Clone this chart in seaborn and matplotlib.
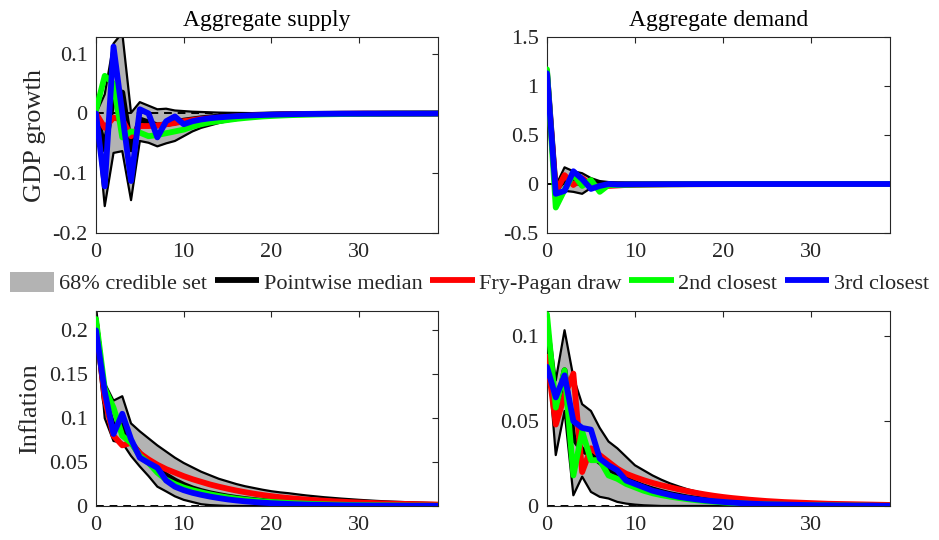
import numpy as np
import pandas as pd
import matplotlib
matplotlib.use("Agg")
import matplotlib.pyplot as plt
from matplotlib.lines import Line2D
from matplotlib.patches import Patch
import seaborn as sns

horizons = list(range(40))

# ---------------- GDP growth, aggregate supply ----------------
gs_upper = [0, 0.032, 0.117, 0.135, 0.001, 0.019, 0.013, 0.007, 0.008, 0.005,
            0.004, 0.003, 0.0025, 0.002, 0.0015, 0.0012, 0.001, 0.0008, 0.0006, 0.0005,
            0.0004, 0.0003, 0.0003, 0.0002, 0.0002, 0.0002, 0.0001, 0.0001, 0.0001, 0.0001,
            0.0001, 0.0001, 0, 0, 0, 0, 0, 0, 0, 0]
gs_lower = [0, -0.155, -0.066, -0.063, -0.145, -0.046, -0.049, -0.055, -0.05, -0.046,
            -0.038, -0.03, -0.024, -0.02, -0.016, -0.013, -0.011, -0.009, -0.0075, -0.0063,
            -0.0053, -0.0045, -0.0038, -0.0032, -0.0027, -0.0023, -0.0019, -0.0016, -0.0014, -0.0012,
            -0.001, -0.0008, -0.0007, -0.0006, -0.0005, -0.0004, -0.0003, -0.0003, -0.0002, -0.0002]
gs_median = [0, -0.06, 0.03, 0.035, -0.06, -0.01, -0.015, -0.02, -0.018, -0.015,
             -0.012, -0.01, -0.008, -0.0065, -0.0053, -0.0043, -0.0035, -0.0028, -0.0023, -0.0019,
             -0.0015, -0.0012, -0.001, -0.0008, -0.0007, -0.0006, -0.0005, -0.0004, -0.0003, -0.0003,
             -0.0002, -0.0002, -0.0002, -0.0001, -0.0001, -0.0001, -0.0001, 0, 0, 0]
gs_fry = [0, -0.024, -0.007, -0.01, -0.038, -0.021, -0.021, -0.02, -0.018, -0.016,
          -0.013, -0.011, -0.009, -0.008, -0.007, -0.006, -0.005, -0.0042, -0.0035, -0.003,
          -0.0025, -0.002, -0.0017, -0.0014, -0.0012, -0.001, -0.0008, -0.0007, -0.0006, -0.0005,
          -0.0004, -0.0003, -0.0003, -0.0002, -0.0002, -0.0002, -0.0001, -0.0001, -0.0001, -0.0001]
gs_second = [0.005, 0.063, 0.05, -0.04, -0.03, -0.032, -0.038, -0.036, -0.033, -0.03,
             -0.027, -0.022, -0.018, -0.015, -0.013, -0.011, -0.009, -0.0075, -0.0062, -0.005,
             -0.0042, -0.0035, -0.0029, -0.0024, -0.002, -0.0017, -0.0014, -0.0012, -0.001, -0.0008,
             -0.0007, -0.0006, -0.0005, -0.0004, -0.0003, -0.0003, -0.0002, -0.0002, -0.0002, -0.0001]
gs_third = [0, -0.122, 0.112, 0.0, -0.113, 0.007, 0.0, -0.04, -0.013, -0.005,
            -0.018, -0.013, -0.01, -0.008, -0.0065, -0.0055, -0.0045, -0.0037, -0.003, -0.0025,
            -0.002, -0.0016, -0.0013, -0.001, -0.0008, -0.0007, -0.0006, -0.0005, -0.0004, -0.0003,
            -0.0003, -0.0002, -0.0002, -0.0002, -0.0001, -0.0001, -0.0001, -0.0001, -0.0001, 0]

# ---------------- GDP growth, aggregate demand ----------------
gd_upper = [1.17, -0.02, 0.17, 0.13, 0.11, 0.06, 0.03, 0.02, 0.015, 0.012,
            0.01, 0.008, 0.007, 0.006, 0.005, 0.004, 0.0035, 0.003, 0.0025, 0.002,
            0.002, 0.0018, 0.0016, 0.0014, 0.0012, 0.001, 0.001, 0.0009, 0.0008, 0.0007,
            0.0006, 0.0006, 0.0005, 0.0005, 0.0004, 0.0004, 0.0003, 0.0003, 0.0003, 0.0002]
gd_lower = [1.12, -0.12, -0.07, -0.08, -0.1, -0.04, -0.025, -0.02, -0.015, -0.012,
            -0.01, -0.008, -0.007, -0.006, -0.005, -0.004, -0.0035, -0.003, -0.0025, -0.002,
            -0.002, -0.0018, -0.0016, -0.0014, -0.0012, -0.001, -0.001, -0.0009, -0.0008, -0.0007,
            -0.0006, -0.0006, -0.0005, -0.0005, -0.0004, -0.0004, -0.0003, -0.0003, -0.0003, -0.0002]
gd_median = [1.15, -0.06, 0.05, 0.03, 0.0, 0.01, 0.0, -0.005, -0.004, -0.003,
             -0.002, -0.002, -0.0015, -0.0012, -0.001, -0.001, -0.0008, -0.0007, -0.0006, -0.0005,
             -0.0004, -0.0004, -0.0003, -0.0003, -0.0002, -0.0002, -0.0002, -0.0001, -0.0001, -0.0001,
             -0.0001, 0, 0, 0, 0, 0, 0, 0, 0, 0]
gd_fry = [1.1, -0.08, 0.09, -0.01, 0.06, -0.01, -0.03, -0.02, -0.015, -0.01,
          -0.008, -0.006, -0.005, -0.004, -0.003, -0.0025, -0.002, -0.0017, -0.0014, -0.0012,
          -0.001, -0.0008, -0.0007, -0.0006, -0.0005, -0.0004, -0.0003, -0.0003, -0.0002, -0.0002,
          -0.0002, -0.0001, -0.0001, -0.0001, -0.0001, 0, 0, 0, 0, 0]
gd_second = [1.17, -0.24, -0.06, 0.1, -0.02, 0.04, -0.08, -0.01, -0.01, -0.008,
             -0.006, -0.005, -0.004, -0.0035, -0.003, -0.0025, -0.002, -0.0017, -0.0014, -0.0012,
             -0.001, -0.0008, -0.0007, -0.0006, -0.0005, -0.0004, -0.0003, -0.0003, -0.0002, -0.0002,
             -0.0002, -0.0001, -0.0001, -0.0001, -0.0001, 0, 0, 0, 0, 0]
gd_third = [1.13, -0.1, -0.07, 0.13, 0.05, -0.05, -0.02, 0.0, -0.005, -0.004,
            -0.003, -0.0025, -0.002, -0.0017, -0.0014, -0.0012, -0.001, -0.0008, -0.0007, -0.0006,
            -0.0005, -0.0004, -0.0003, -0.0003, -0.0002, -0.0002, -0.0002, -0.0001, -0.0001, -0.0001,
            -0.0001, 0, 0, 0, 0, 0, 0, 0, 0, 0]

# ---------------- Inflation, aggregate supply ----------------
is_upper = [0.227, 0.14, 0.12, 0.125, 0.094, 0.085, 0.077, 0.069, 0.062, 0.055,
            0.049, 0.044, 0.039, 0.035, 0.031, 0.028, 0.025, 0.0225, 0.0205, 0.0185,
            0.0168, 0.0155, 0.0145, 0.0132, 0.012, 0.011, 0.01, 0.0092, 0.0084, 0.0077,
            0.007, 0.0064, 0.0058, 0.0053, 0.0049, 0.0045, 0.0041, 0.0038, 0.0035, 0.0032]
is_lower = [0.215, 0.10, 0.074, 0.072, 0.057, 0.045, 0.034, 0.022, 0.0166, 0.011,
            0.007, 0.0045, 0.002, 0.001, 0.0005, 0, 0, 0, 0, 0,
            0, 0, 0, 0, 0, 0, 0, 0, 0, 0,
            0, 0, 0, 0, 0, 0, 0, 0, 0, 0]
is_median = [0.21, 0.12, 0.09, 0.092, 0.072, 0.06, 0.05, 0.042, 0.035, 0.029,
             0.024, 0.02, 0.017, 0.0145, 0.0125, 0.0107, 0.0092, 0.0079, 0.0068, 0.0058,
             0.005, 0.0043, 0.0037, 0.0032, 0.0027, 0.0023, 0.002, 0.0017, 0.0015, 0.0013,
             0.0011, 0.001, 0.0008, 0.0007, 0.0006, 0.0005, 0.0004, 0.0004, 0.0003, 0.0003]
is_fry = [0.209, 0.122, 0.08, 0.069, 0.072, 0.06, 0.053, 0.047, 0.042, 0.038,
          0.034, 0.0305, 0.0275, 0.0245, 0.022, 0.0197, 0.0176, 0.0157, 0.014, 0.0125,
          0.0112, 0.01, 0.009, 0.0081, 0.0073, 0.0066, 0.006, 0.0054, 0.0049, 0.0044,
          0.004, 0.0036, 0.0032, 0.0029, 0.0026, 0.0024, 0.0022, 0.002, 0.0018, 0.0016]
is_second = [0.213, 0.134, 0.112, 0.08, 0.072, 0.057, 0.049, 0.038, 0.03, 0.025,
             0.021, 0.018, 0.0155, 0.0133, 0.0114, 0.0098, 0.0084, 0.0072, 0.0062, 0.0053,
             0.0046, 0.004, 0.0034, 0.003, 0.0026, 0.0022, 0.0019, 0.0016, 0.0014, 0.0012,
             0.001, 0.0009, 0.0008, 0.0007, 0.0006, 0.0005, 0.0004, 0.0004, 0.0003, 0.0003]
is_third = [0.2, 0.13, 0.082, 0.105, 0.076, 0.055, 0.049, 0.0435, 0.029, 0.022,
            0.018, 0.015, 0.0127, 0.0107, 0.009, 0.0075, 0.0063, 0.0053, 0.0045, 0.0038,
            0.0032, 0.0027, 0.0023, 0.0019, 0.0016, 0.0014, 0.0012, 0.001, 0.0008, 0.0007,
            0.0006, 0.0005, 0.0004, 0.0004, 0.0003, 0.0003, 0.0002, 0.0002, 0.0002, 0.0001]

# ---------------- Inflation, aggregate demand ----------------
id_upper = [0.1145, 0.074, 0.1036, 0.076, 0.06, 0.056, 0.046, 0.038, 0.034, 0.029,
            0.024, 0.021, 0.018, 0.0155, 0.0133, 0.0115, 0.0098, 0.0085, 0.0073, 0.0064,
            0.0057, 0.005, 0.0044, 0.0039, 0.0034, 0.003, 0.0027, 0.0024, 0.0021, 0.0019,
            0.0017, 0.0015, 0.0013, 0.0012, 0.0011, 0.001, 0.0009, 0.0008, 0.0007, 0.0007]
id_lower = [0.095, 0.03, 0.056, 0.0063, 0.0173, 0.0083, 0.0054, 0.0044, 0.0024, 0.0014,
            0.0008, 0.0004, 0.0002, 0, 0, 0, 0, 0, 0, 0,
            0, 0, 0, 0, 0, 0, 0, 0, 0, 0,
            0, 0, 0, 0, 0, 0, 0, 0, 0, 0]
id_median = [0.1, 0.055, 0.08, 0.04, 0.033, 0.03, 0.026, 0.022, 0.019, 0.016,
             0.0135, 0.0115, 0.0098, 0.0083, 0.007, 0.006, 0.005, 0.0043, 0.0036, 0.003,
             0.0026, 0.0022, 0.0018, 0.0015, 0.0013, 0.0011, 0.0009, 0.0008, 0.0007, 0.0006,
             0.0005, 0.0004, 0.0003, 0.0003, 0.0002, 0.0002, 0.0002, 0.0001, 0.0001, 0.0001]
id_fry = [0.088, 0.048, 0.065, 0.078, 0.02, 0.034, 0.03, 0.026, 0.022, 0.019,
          0.017, 0.0152, 0.0136, 0.0122, 0.011, 0.0098, 0.0087, 0.0077, 0.0068, 0.006,
          0.0053, 0.0047, 0.0042, 0.0037, 0.0033, 0.0029, 0.0026, 0.0023, 0.0021, 0.0019,
          0.0017, 0.0015, 0.0013, 0.0012, 0.0011, 0.001, 0.0009, 0.0008, 0.0007, 0.0006]
id_second = [0.113, 0.058, 0.08, 0.018, 0.044, 0.027, 0.027, 0.018, 0.016, 0.013,
             0.011, 0.009, 0.0075, 0.0064, 0.0055, 0.0047, 0.004, 0.0034, 0.0029, 0.0025,
             0.0021, 0.0018, 0.0015, 0.0013, 0.0011, 0.0009, 0.0008, 0.0007, 0.0006, 0.0005,
             0.0004, 0.0004, 0.0003, 0.0003, 0.0002, 0.0002, 0.0002, 0.0001, 0.0001, 0.0001]
id_third = [0.082, 0.064, 0.077, 0.05, 0.046, 0.045, 0.028, 0.024, 0.021, 0.015,
            0.013, 0.011, 0.009, 0.0077, 0.0065, 0.0054, 0.0046, 0.0039, 0.0033, 0.0028,
            0.0024, 0.002, 0.0017, 0.0014, 0.0012, 0.001, 0.0009, 0.0008, 0.0007, 0.0006,
            0.0005, 0.0004, 0.0004, 0.0003, 0.0003, 0.0002, 0.0002, 0.0002, 0.0001, 0.0001]

titles = ["Aggregate supply", "Aggregate demand"]
row_labels = ["GDP growth", "Inflation"]
legend_labels = ["68% credible set", "Pointwise median", "Fry-Pagan draw",
                 "2nd closest", "3rd closest"]
x_ticks = [0, 10, 20, 30]
y_ticks = {
    (0, 0): [-0.2, -0.1, 0, 0.1],
    (0, 1): [-0.5, 0, 0.5, 1, 1.5],
    (1, 0): [0, 0.05, 0.1, 0.15, 0.2],
    (1, 1): [0, 0.05, 0.1],
}
y_tick_labels = {
    (0, 0): ["-0.2", "-0.1", "0", "0.1"],
    (0, 1): ["-0.5", "0", "0.5", "1", "1.5"],
    (1, 0): ["0", "0.05", "0.1", "0.15", "0.2"],
    (1, 1): ["0", "0.05", "0.1"],
}
y_limits = {
    (0, 0): (-0.2, 0.128),
    (0, 1): (-0.5, 1.5),
    (1, 0): (0, 0.222),
    (1, 1): (0, 0.1149),
}

panels = {
    (0, 0): (gs_upper, gs_lower, gs_median, gs_fry, gs_second, gs_third),
    (0, 1): (gd_upper, gd_lower, gd_median, gd_fry, gd_second, gd_third),
    (1, 0): (is_upper, is_lower, is_median, is_fry, is_second, is_third),
    (1, 1): (id_upper, id_lower, id_median, id_fry, id_second, id_third),
}

sns.set_theme(style="white")
plt.rcParams["font.family"] = ["Liberation Serif", "DejaVu Serif"]
plt.rcParams["axes.unicode_minus"] = False

band_color = "#b3b3b3"
line_colors = ["black", "#ff0000", "#00ff00", "#0000ff"]
tick_color = "#262626"

fig = plt.figure(figsize=(9.39, 5.40), dpi=100)
positions = {
    (0, 0): [0.1022, 0.5685, 0.3642, 0.3630],
    (0, 1): [0.5825, 0.5685, 0.3653, 0.3630],
    (1, 0): [0.1022, 0.0630, 0.3642, 0.3610],
    (1, 1): [0.5825, 0.0630, 0.3653, 0.3610],
}

for key, pos in positions.items():
    r, c = key
    ax = fig.add_axes(pos)
    upper, lower, med, fry, second, third = panels[key]
    df = pd.DataFrame({"h": horizons, "upper": upper, "lower": lower,
                       "median": med, "fry": fry, "second": second, "third": third})
    ax.fill_between(df["h"], df["lower"], df["upper"], color=band_color, lw=0, zorder=1)
    sns.lineplot(data=df, x="h", y="upper", ax=ax, color="black", lw=1.6, zorder=2)
    sns.lineplot(data=df, x="h", y="lower", ax=ax, color="black", lw=1.6, zorder=2)
    ax.axhline(0, color="black", lw=1.4, ls=(0, (4, 3)), zorder=2.5)
    for col, colr in zip(["median", "fry", "second", "third"], line_colors):
        sns.lineplot(data=df, x="h", y=col, ax=ax, color=colr, lw=4.2, zorder=3)

    ax.set_xlim(0, 39)
    ax.set_ylim(*y_limits[key])
    ax.set_xticks(x_ticks)
    ax.set_xticklabels([str(t) for t in x_ticks])
    ax.set_yticks(y_ticks[key])
    ax.set_yticklabels(y_tick_labels[key])
    ax.set_xlabel("")
    ax.set_ylabel("")
    ax.tick_params(direction="in", top=True, right=True, length=4, width=0.8,
                   labelsize=16, colors=tick_color, labelcolor=tick_color)
    ax.tick_params(axis="y", pad=6)
    ax.tick_params(axis="x", pad=7)
    for sp in ax.spines.values():
        sp.set_color(tick_color)
        sp.set_linewidth(0.8)
    if r == 0:
        ax.set_title(titles[c], fontsize=17, pad=8, color="black")
    if c == 0:
        ax.set_ylabel(row_labels[r], fontsize=19, color=tick_color)
        ax.yaxis.set_label_coords(-0.145 if r == 0 else -0.16, 0.5)

handles = [Patch(facecolor=band_color, edgecolor="none")] + [
    Line2D([0], [0], color=cl, lw=4.2, solid_capstyle="butt") for cl in line_colors]
fig.legend(handles, legend_labels, loc="center", bbox_to_anchor=(0.5, 0.476),
           ncol=5, frameon=False, fontsize=16, handlelength=2.0, handleheight=1.0,
           handletextpad=0.2, columnspacing=0.35, borderaxespad=0, borderpad=0)

fig.savefig("out.png", dpi=100)
